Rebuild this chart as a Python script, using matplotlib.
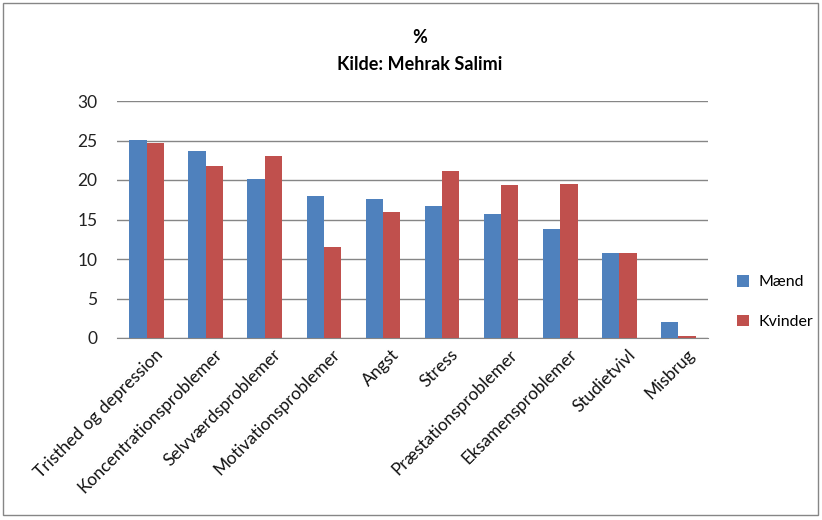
import matplotlib
matplotlib.use("Agg")
import matplotlib.pyplot as plt
import matplotlib.transforms as mtransforms
from matplotlib.patches import Rectangle
import numpy as np

categories = ["Tristhed og depression", "Koncentrationsproblemer", "Selvværdsproblemer",
              "Motivationsproblemer", "Angst", "Stress", "Præstationsproblemer",
              "Eksamensproblemer", "Studietvivl", "Misbrug"]
maend = [25.1, 23.7, 20.1, 18.0, 17.6, 16.7, 15.7, 13.8, 10.75, 2.06]
kvinder = [24.7, 21.8, 23.0, 11.5, 16.0, 21.2, 19.4, 19.55, 10.75, 0.25]
series_names = ["Mænd", "Kvinder"]
yticks = [0, 5, 10, 15, 20, 25, 30]

plt.rcParams['font.family'] = ['Lato', 'DejaVu Sans']

fig = plt.figure(figsize=(8.22, 5.20), dpi=100)
ax = fig.add_axes([117/822, 1-338/520, (708-117)/822, (338-101)/520])

x = np.arange(len(categories))
w = 0.293
b1 = ax.bar(x - w/2, maend, w, color='#4F81BD', label=series_names[0], zorder=3)
b2 = ax.bar(x + w/2, kvinder, w, color='#C0504D', label=series_names[1], zorder=3)

ax.set_xlim(-0.5, len(categories) - 0.5)
ax.set_ylim(0, 30)
ax.set_yticks(yticks)
ax.set_yticklabels([str(v) for v in yticks], fontsize=12.5, color='#222222')
ax.yaxis.grid(True, color='#868686', lw=1, zorder=0)
ax.set_axisbelow(True)
for s in ['top', 'right', 'left']:
    ax.spines[s].set_visible(False)
ax.spines['bottom'].set_color('#868686')
ax.tick_params(axis='y', length=0, pad=14)
ax.tick_params(axis='x', length=0, pad=6)
ax.set_xticks(x)
ax.set_xticklabels(categories, rotation=45, ha='right', rotation_mode='anchor',
                   fontsize=12.5, color='#111111')
offset = mtransforms.ScaledTranslation(8/100, 0, fig.dpi_scale_trans)
for lbl in ax.get_xticklabels():
    lbl.set_transform(lbl.get_transform() + offset)

fig.text(0.511, 0.927, "%", ha='center', va='center', fontsize=13, fontweight='bold')
fig.text(0.511, 0.875, "Kilde: Mehrak Salimi", ha='center', va='center', fontsize=13, fontweight='bold')

fig.legend(handles=[b1, b2], labels=series_names, loc='center left',
           bbox_to_anchor=(737/822, 1-302/520), frameon=False, fontsize=11.5,
           borderaxespad=0, borderpad=0,
           labelspacing=1.6, handlelength=0.75, handleheight=0.75, handletextpad=0.6)

fig.patches.append(Rectangle((3/822, 5/520), 815/822, 512/520, transform=fig.transFigure,
                             fill=False, edgecolor='#868686', lw=1))

fig.savefig("out.png", dpi=100)
